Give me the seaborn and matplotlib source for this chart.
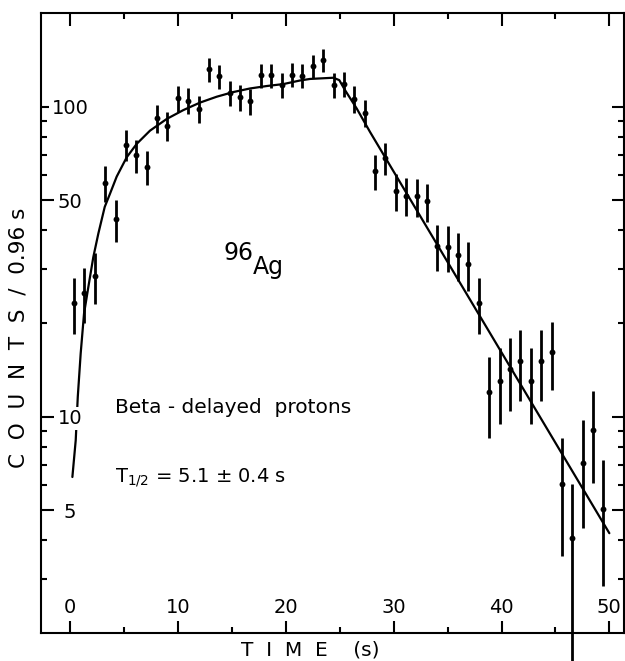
import matplotlib
matplotlib.use("Agg")
import matplotlib.pyplot as plt
import seaborn as sns
from matplotlib.ticker import NullFormatter

# ---------------- data ----------------
time_s = [0.34, 1.30, 2.27, 3.23, 4.19, 5.16, 6.12, 7.08, 8.04, 9.01,
          9.97, 10.93, 11.90, 12.86, 13.82, 14.79, 15.75, 16.71, 17.67, 18.64,
          19.60, 20.56, 21.53, 22.49, 23.45, 24.42, 25.38, 26.34, 27.30, 28.27,
          29.23, 30.19, 31.16, 32.12, 33.08, 34.05, 35.01, 35.97, 36.93, 37.90,
          38.86, 39.82, 40.79, 41.75, 42.71, 43.68, 44.64, 45.60, 46.56, 47.53,
          48.49, 49.45]
counts = [23.3, 25.1, 28.4, 56.7, 43.3, 75.5, 69.6, 63.8, 91.7, 86.8,
          106.3, 104.6, 98.2, 132.0, 125.6, 110.9, 107.3, 104.2, 126.3, 126.3,
          117.8, 126.8, 125.8, 135.4, 141.6, 117.5, 118.1, 106.0, 95.5, 61.8,
          68.3, 53.4, 51.7, 51.4, 49.5, 35.5, 35.3, 33.3, 31.0, 23.3,
          12.05, 13.07, 14.2, 15.1, 13.05, 15.1, 16.2, 6.06, 4.05, 7.08,
          9.09, 5.04]
err_up = [4.8, 5.0, 5.3, 7.5, 6.6, 8.7, 8.3, 8.0, 9.6, 9.3,
          10.3, 10.2, 9.9, 11.5, 11.2, 10.5, 10.4, 10.2, 11.2, 11.2,
          10.9, 11.3, 11.2, 11.6, 11.9, 10.8, 10.9, 10.3, 9.8, 7.9,
          8.3, 7.3, 7.2, 7.2, 7.0, 6.0, 5.9, 5.8, 5.6, 4.8,
          3.5, 3.6, 3.8, 3.9, 3.6, 3.9, 4.0, 2.5, 2.0, 2.7,
          3.0, 2.2]
err_down = [4.8, 5.0, 5.3, 7.5, 6.6, 8.7, 8.3, 8.0, 9.6, 9.3,
            10.3, 10.2, 9.9, 11.5, 11.2, 10.5, 10.4, 10.2, 11.2, 11.2,
            10.9, 11.3, 11.2, 11.6, 11.9, 10.8, 10.9, 10.3, 9.8, 7.9,
            8.3, 7.3, 7.2, 7.2, 7.0, 6.0, 5.9, 5.8, 5.6, 4.8,
            3.5, 3.6, 3.8, 3.9, 3.6, 3.9, 4.0, 2.5, 2.6, 2.7,
            3.0, 2.2]

# fitted curve, read as knots from the reference
fit_time = [0.19, 0.50, 0.69, 0.96, 1.27, 1.67, 2.13, 2.60, 3.19, 3.68,
            4.30, 5.23, 6.16, 7.39, 8.94, 10.48, 12.03, 13.58, 15.12, 16.67,
            18.22, 19.76, 21.31, 22.24, 24.40, 24.95, 25.48, 26.57, 27.80, 50.0]
fit_counts = [6.39, 8.40, 11.58, 16.0, 21.5, 26.2, 32.7, 39.0, 47.5, 52.4,
              59.5, 68.7, 75.9, 83.7, 91.3, 97.5, 103.1, 107.7, 111.5, 114.5,
              116.6, 118.3, 121.5, 122.9, 124.0, 121.8, 113.1, 98.6, 82.9, 4.21]

x_major = [0, 10, 20, 30, 40, 50]
x_minor = [5, 15, 25, 35, 45]
y_major = [5, 10, 50, 100]
y_major_labels = ["5", "10", "50", "100"]
y_minor = [3, 4, 6, 7, 8, 9, 20, 30, 40, 60, 70, 80, 90]

# ---------------- figure ----------------
sns.set_theme(style="ticks")
plt.rcParams["font.family"] = ["DejaVu Sans"]
plt.rcParams["mathtext.fontset"] = "dejavusans"

fig = plt.figure(figsize=(6.25, 6.61), dpi=100)
ax = fig.add_axes([0.0651, 0.04176, 0.9333, 0.9380])

eb = ax.errorbar(time_s, counts, yerr=[err_down, err_up], fmt="none",
                 ecolor="black", elinewidth=2.0, capsize=0, zorder=2)
for c in eb[2]:
    c.set_clip_on(False)
sns.scatterplot(x=time_s, y=counts, color="black", s=18, linewidth=0,
                ax=ax, zorder=3)
sns.lineplot(x=fit_time, y=fit_counts, estimator=None, sort=False,
             color="black", linewidth=1.6, ax=ax, zorder=2)

ax.set_yscale("log")
ax.set_xlim(-2.75, 51.36)
ax.set_ylim(2, 200)

ax.set_xticks(x_major)
ax.set_xticks(x_minor, minor=True)
ax.set_xticklabels([str(v) for v in x_major])
ax.set_yticks(y_major)
ax.set_yticklabels(y_major_labels)
ax.set_yticks(y_minor, minor=True)
ax.yaxis.set_minor_formatter(NullFormatter())

ax.tick_params(axis="both", which="both", direction="in", top=True,
               right=True, width=1.5, color="black", labelcolor="black")
ax.tick_params(which="major", length=9)
ax.tick_params(which="minor", length=4.5)
ax.tick_params(axis="x", which="major", pad=-14.7, labelsize=14)
ax.tick_params(axis="y", which="major", pad=-21.1, labelsize=14)

ax.set_axisbelow(False)
for lbl in ax.get_yticklabels():
    lbl.set_horizontalalignment("center")
    lbl.set_bbox(dict(facecolor="white", edgecolor="none", pad=1.5))
for lbl in ax.get_xticklabels():
    lbl.set_verticalalignment("baseline")

for sp in ax.spines.values():
    sp.set_linewidth(1.5)
    sp.set_color("black")
ax.grid(False)

ax.set_xlabel("T  I  M  E    (s)", fontsize=14.5, color="black")
ax.xaxis.set_label_coords(0.4617, -0.0355)
ax.xaxis.label.set_verticalalignment("baseline")
ax.set_ylabel("C  O  U  N  T  S  /  0.96 s", fontsize=15.5, color="black")
ax.yaxis.set_label_coords(-0.0269, 0.4765)
ax.yaxis.label.set_verticalalignment("baseline")

ax.text(14.17, 32.0, "96", fontsize=17, ha="left", va="baseline", color="black")
ax.text(16.95, 28.9, "Ag", fontsize=17, ha="left", va="baseline", color="black")
ax.text(4.15, 10.28, "Beta - delayed  protons", fontsize=14.5, ha="left",
        va="baseline", color="black")
ax.text(4.15, 6.17, r"$\mathrm{T}_{1/2}$ = 5.1 ± 0.4 s", fontsize=14,
        ha="left", va="baseline", color="black")

fig.savefig("out.png", dpi=100)
